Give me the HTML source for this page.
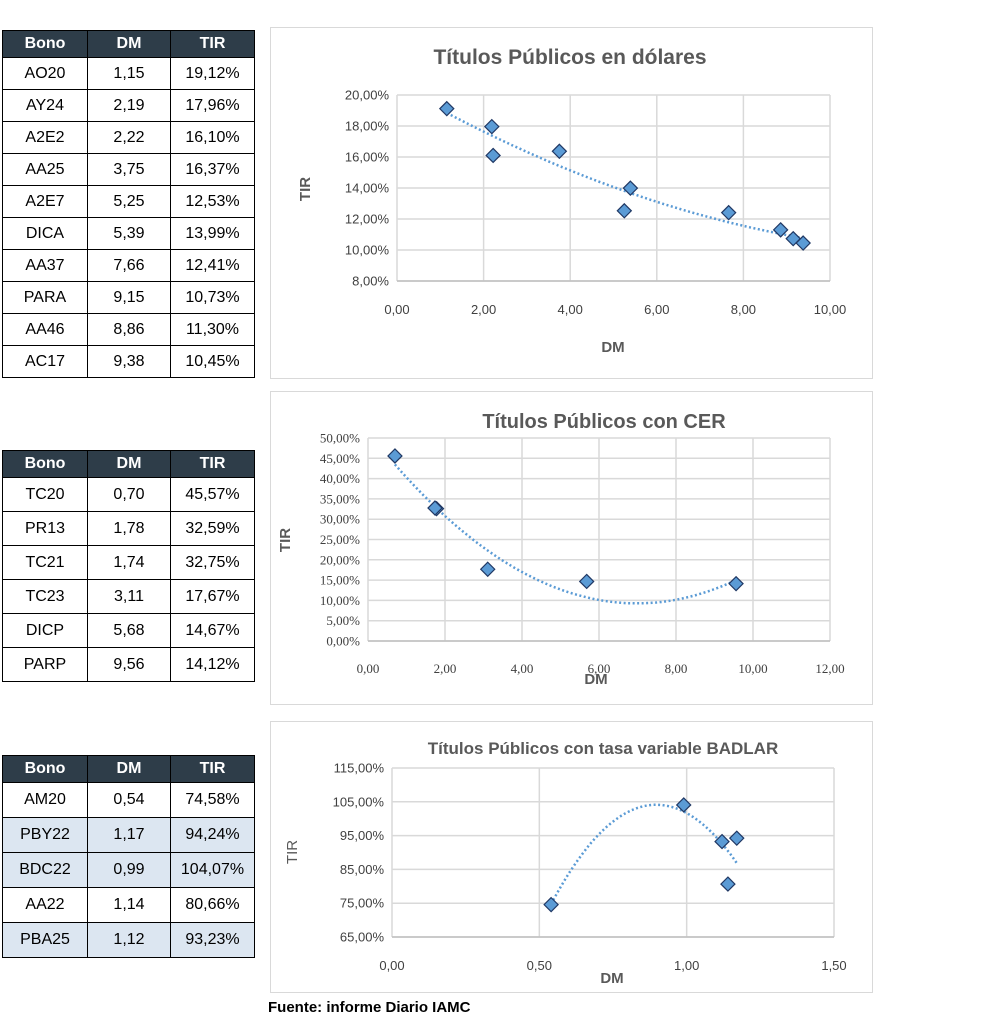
<!DOCTYPE html>
<html><head><meta charset="utf-8">
<style>
body{margin:0;width:994px;height:1024px;background:#fff;font-family:"Liberation Sans",sans-serif;position:relative;overflow:hidden}
table{position:absolute;border-collapse:collapse;font-size:16px;color:#000;table-layout:fixed}
td,th{border:1px solid #000;text-align:center;padding:0}
th{background:#2e3d49;color:#fff;font-weight:bold}
tr.b td{background:#dce6f1}
.box{position:absolute;border:1px solid #d9d9d9;background:#fff}
svg{position:absolute;left:0;top:0}
#foot{position:absolute;left:268px;top:999px;font-weight:bold;font-size:15px}
</style></head><body>
<table style="left:2px;top:30px;width:253px">
<colgroup><col style="width:85px"><col style="width:83px"><col style="width:84px"></colgroup>
<tr style="height:27px"><th>Bono</th><th>DM</th><th>TIR</th></tr>
<tr style="height:32px"><td>AO20</td><td>1,15</td><td>19,12%</td></tr>
<tr style="height:32px"><td>AY24</td><td>2,19</td><td>17,96%</td></tr>
<tr style="height:32px"><td>A2E2</td><td>2,22</td><td>16,10%</td></tr>
<tr style="height:32px"><td>AA25</td><td>3,75</td><td>16,37%</td></tr>
<tr style="height:32px"><td>A2E7</td><td>5,25</td><td>12,53%</td></tr>
<tr style="height:32px"><td>DICA</td><td>5,39</td><td>13,99%</td></tr>
<tr style="height:32px"><td>AA37</td><td>7,66</td><td>12,41%</td></tr>
<tr style="height:32px"><td>PARA</td><td>9,15</td><td>10,73%</td></tr>
<tr style="height:32px"><td>AA46</td><td>8,86</td><td>11,30%</td></tr>
<tr style="height:32px"><td>AC17</td><td>9,38</td><td>10,45%</td></tr>
</table>
<table style="left:2px;top:450px;width:253px">
<colgroup><col style="width:85px"><col style="width:83px"><col style="width:84px"></colgroup>
<tr style="height:27px"><th>Bono</th><th>DM</th><th>TIR</th></tr>
<tr style="height:34px"><td>TC20</td><td>0,70</td><td>45,57%</td></tr>
<tr style="height:34px"><td>PR13</td><td>1,78</td><td>32,59%</td></tr>
<tr style="height:34px"><td>TC21</td><td>1,74</td><td>32,75%</td></tr>
<tr style="height:34px"><td>TC23</td><td>3,11</td><td>17,67%</td></tr>
<tr style="height:34px"><td>DICP</td><td>5,68</td><td>14,67%</td></tr>
<tr style="height:34px"><td>PARP</td><td>9,56</td><td>14,12%</td></tr>
</table>
<table style="left:2px;top:755px;width:253px">
<colgroup><col style="width:85px"><col style="width:83px"><col style="width:84px"></colgroup>
<tr style="height:27px"><th>Bono</th><th>DM</th><th>TIR</th></tr>
<tr style="height:35px"><td>AM20</td><td>0,54</td><td>74,58%</td></tr>
<tr class="b" style="height:35px"><td>PBY22</td><td>1,17</td><td>94,24%</td></tr>
<tr class="b" style="height:35px"><td>BDC22</td><td>0,99</td><td>104,07%</td></tr>
<tr style="height:35px"><td>AA22</td><td>1,14</td><td>80,66%</td></tr>
<tr class="b" style="height:35px"><td>PBA25</td><td>1,12</td><td>93,23%</td></tr>
</table>
<div class="box" style="left:270px;top:27px;width:601px;height:350px"></div>
<div class="box" style="left:270px;top:391px;width:601px;height:312px"></div>
<div class="box" style="left:270px;top:721px;width:601px;height:270px"></div>
<svg id="svg" width="994" height="1024"></svg>
<div id="foot">Fuente: informe Diario IAMC</div>
<script>
const dm1=[1.15,2.19,2.22,3.75,5.25,5.39,7.66,9.15,8.86,9.38];
const tir1=[19.12,17.96,16.10,16.37,12.53,13.99,12.41,10.73,11.30,10.45];
const xt1=["0,00","2,00","4,00","6,00","8,00","10,00"];
const yt1=["8,00%","10,00%","12,00%","14,00%","16,00%","18,00%","20,00%"];
const dm2=[0.70,1.78,1.74,3.11,5.68,9.56];
const tir2=[45.57,32.59,32.75,17.67,14.67,14.12];
const xt2=["0,00","2,00","4,00","6,00","8,00","10,00","12,00"];
const yt2=["0,00%","5,00%","10,00%","15,00%","20,00%","25,00%","30,00%","35,00%","40,00%","45,00%","50,00%"];
const dm3=[0.54,1.17,0.99,1.14,1.12];
const tir3=[74.58,94.24,104.07,80.66,93.23];
const xt3=["0,00","0,50","1,00","1,50"];
const yt3=["65,00%","75,00%","85,00%","95,00%","105,00%","115,00%"];
const NS="http://www.w3.org/2000/svg";
const svg=document.getElementById('svg');
function mk(t,a,txt){const e=document.createElementNS(NS,t);for(const k in a)e.setAttribute(k,a[k]);if(txt!==undefined)e.textContent=txt;svg.appendChild(e);return e;}
function fit(xs,ys){let S=[0,0,0,0,0],T=[0,0,0];for(let i=0;i<xs.length;i++){let p=1;for(let k=0;k<5;k++){S[k]+=p;if(k<3)T[k]+=p*ys[i];p*=xs[i];}}
const A=[[S[0],S[1],S[2],T[0]],[S[1],S[2],S[3],T[1]],[S[2],S[3],S[4],T[2]]];
for(let i=0;i<3;i++){for(let j=i+1;j<3;j++){const f=A[j][i]/A[i][i];for(let k=i;k<4;k++)A[j][k]-=f*A[i][k];}}
const c=[0,0,0];for(let i=2;i>=0;i--){let s=A[i][3];for(let k=i+1;k<3;k++)s-=A[i][k]*c[k];c[i]=s/A[i][i];}return c;}
function chart(o){
 const X=v=>o.x0+(v-o.xmin)/(o.xmax-o.xmin)*(o.x1-o.x0);
 const Y=v=>o.y0-(v-o.ymin)/(o.ymax-o.ymin)*(o.y0-o.y1);
 const ff=o.serif?'"Liberation Serif",serif':'"Liberation Sans",sans-serif';
 o.xt.forEach((t,i)=>{const v=o.xmin+i*(o.xmax-o.xmin)/(o.xt.length-1);
  let g=mk('line',{x1:X(v),x2:X(v),y1:o.y1,y2:o.y0,stroke:'#d9d9d9','stroke-width':1.5});
  
  let e=mk('text',{x:X(v),y:o.xly,'text-anchor':'middle','font-size':13,fill:'#404040','font-family':ff},t);
  });
 o.yt.forEach((t,i)=>{const v=o.ymin+i*(o.ymax-o.ymin)/(o.yt.length-1);
  let g=mk('line',{x1:o.x0,x2:o.x1,y1:Y(v),y2:Y(v),stroke:'#d9d9d9','stroke-width':1.5});
  
  let e=mk('text',{x:o.x0-8,y:Y(v)+4.5,'text-anchor':'end','font-size':13,fill:'#404040','font-family':ff},t);
  });
 let ax=mk('line',{x1:o.x0,x2:o.x1,y1:o.y0,y2:o.y0,stroke:'#bfbfbf','stroke-width':1.5});
 
 let t=mk('text',{x:o.tx,y:o.ty,'text-anchor':'middle','font-size':o.ts,'font-weight':'bold',fill:'#595959'},o.title);
 
 let xl=mk('text',{x:o.dx,y:o.dy,'text-anchor':'middle','font-size':15,'font-weight':'bold',fill:'#595959'},'DM');
 
 let yl=mk('text',{x:0,y:0,'text-anchor':'middle','font-size':15,'font-weight':o.tirb?'bold':'normal',fill:'#595959',transform:`translate(${o.tirx},${o.tiry}) rotate(-90)`},'TIR');
 
 const c=fit(o.xs,o.ys);const lo=Math.min(...o.xs),hi=Math.max(...o.xs);let d='';
 for(let i=0;i<=60;i++){const v=lo+(hi-lo)*i/60;const y=c[0]+c[1]*v+c[2]*v*v;d+=(i?'L':'M')+X(v).toFixed(1)+','+Y(y).toFixed(1);}
 let tl=mk('path',{d:d,fill:'none',stroke:'#5b9bd5','stroke-width':2.5,'stroke-dasharray':'2 2.5'});
 
 o.xs.forEach((v,i)=>{const px=X(v),py=Y(o.ys[i]),r=7;
  let p=mk('polygon',{points:`${px},${py-r} ${px+r},${py} ${px},${py+r} ${px-r},${py}`,fill:'#5b9bd5',stroke:'#203864','stroke-width':1.2});
  });
}
chart({xs:dm1,ys:tir1,xt:xt1,yt:yt1,xmin:0,xmax:10,ymin:8,ymax:20,x0:397,x1:830,y0:281,y1:95,xly:314,title:'Títulos Públicos en dólares',tx:570,ty:64,ts:21,dx:613,dy:352,tirx:310,tiry:189,tirb:true});
chart({xs:dm2,ys:tir2,xt:xt2,yt:yt2,xmin:0,xmax:12,ymin:0,ymax:50,x0:368,x1:830,y0:641,y1:438,xly:673,title:'Títulos Públicos con CER',tx:604,ty:428,ts:20,dx:596,dy:684,tirx:290,tiry:540,tirb:true,serif:true});
chart({xs:dm3,ys:tir3,xt:xt3,yt:yt3,xmin:0,xmax:1.5,ymin:65,ymax:115,x0:392,x1:834,y0:937,y1:768,xly:970,title:'Títulos Públicos con tasa variable BADLAR',tx:603,ty:754,ts:17,dx:612,dy:983,tirx:297,tiry:852,tirb:false});
</script>
</body></html>
